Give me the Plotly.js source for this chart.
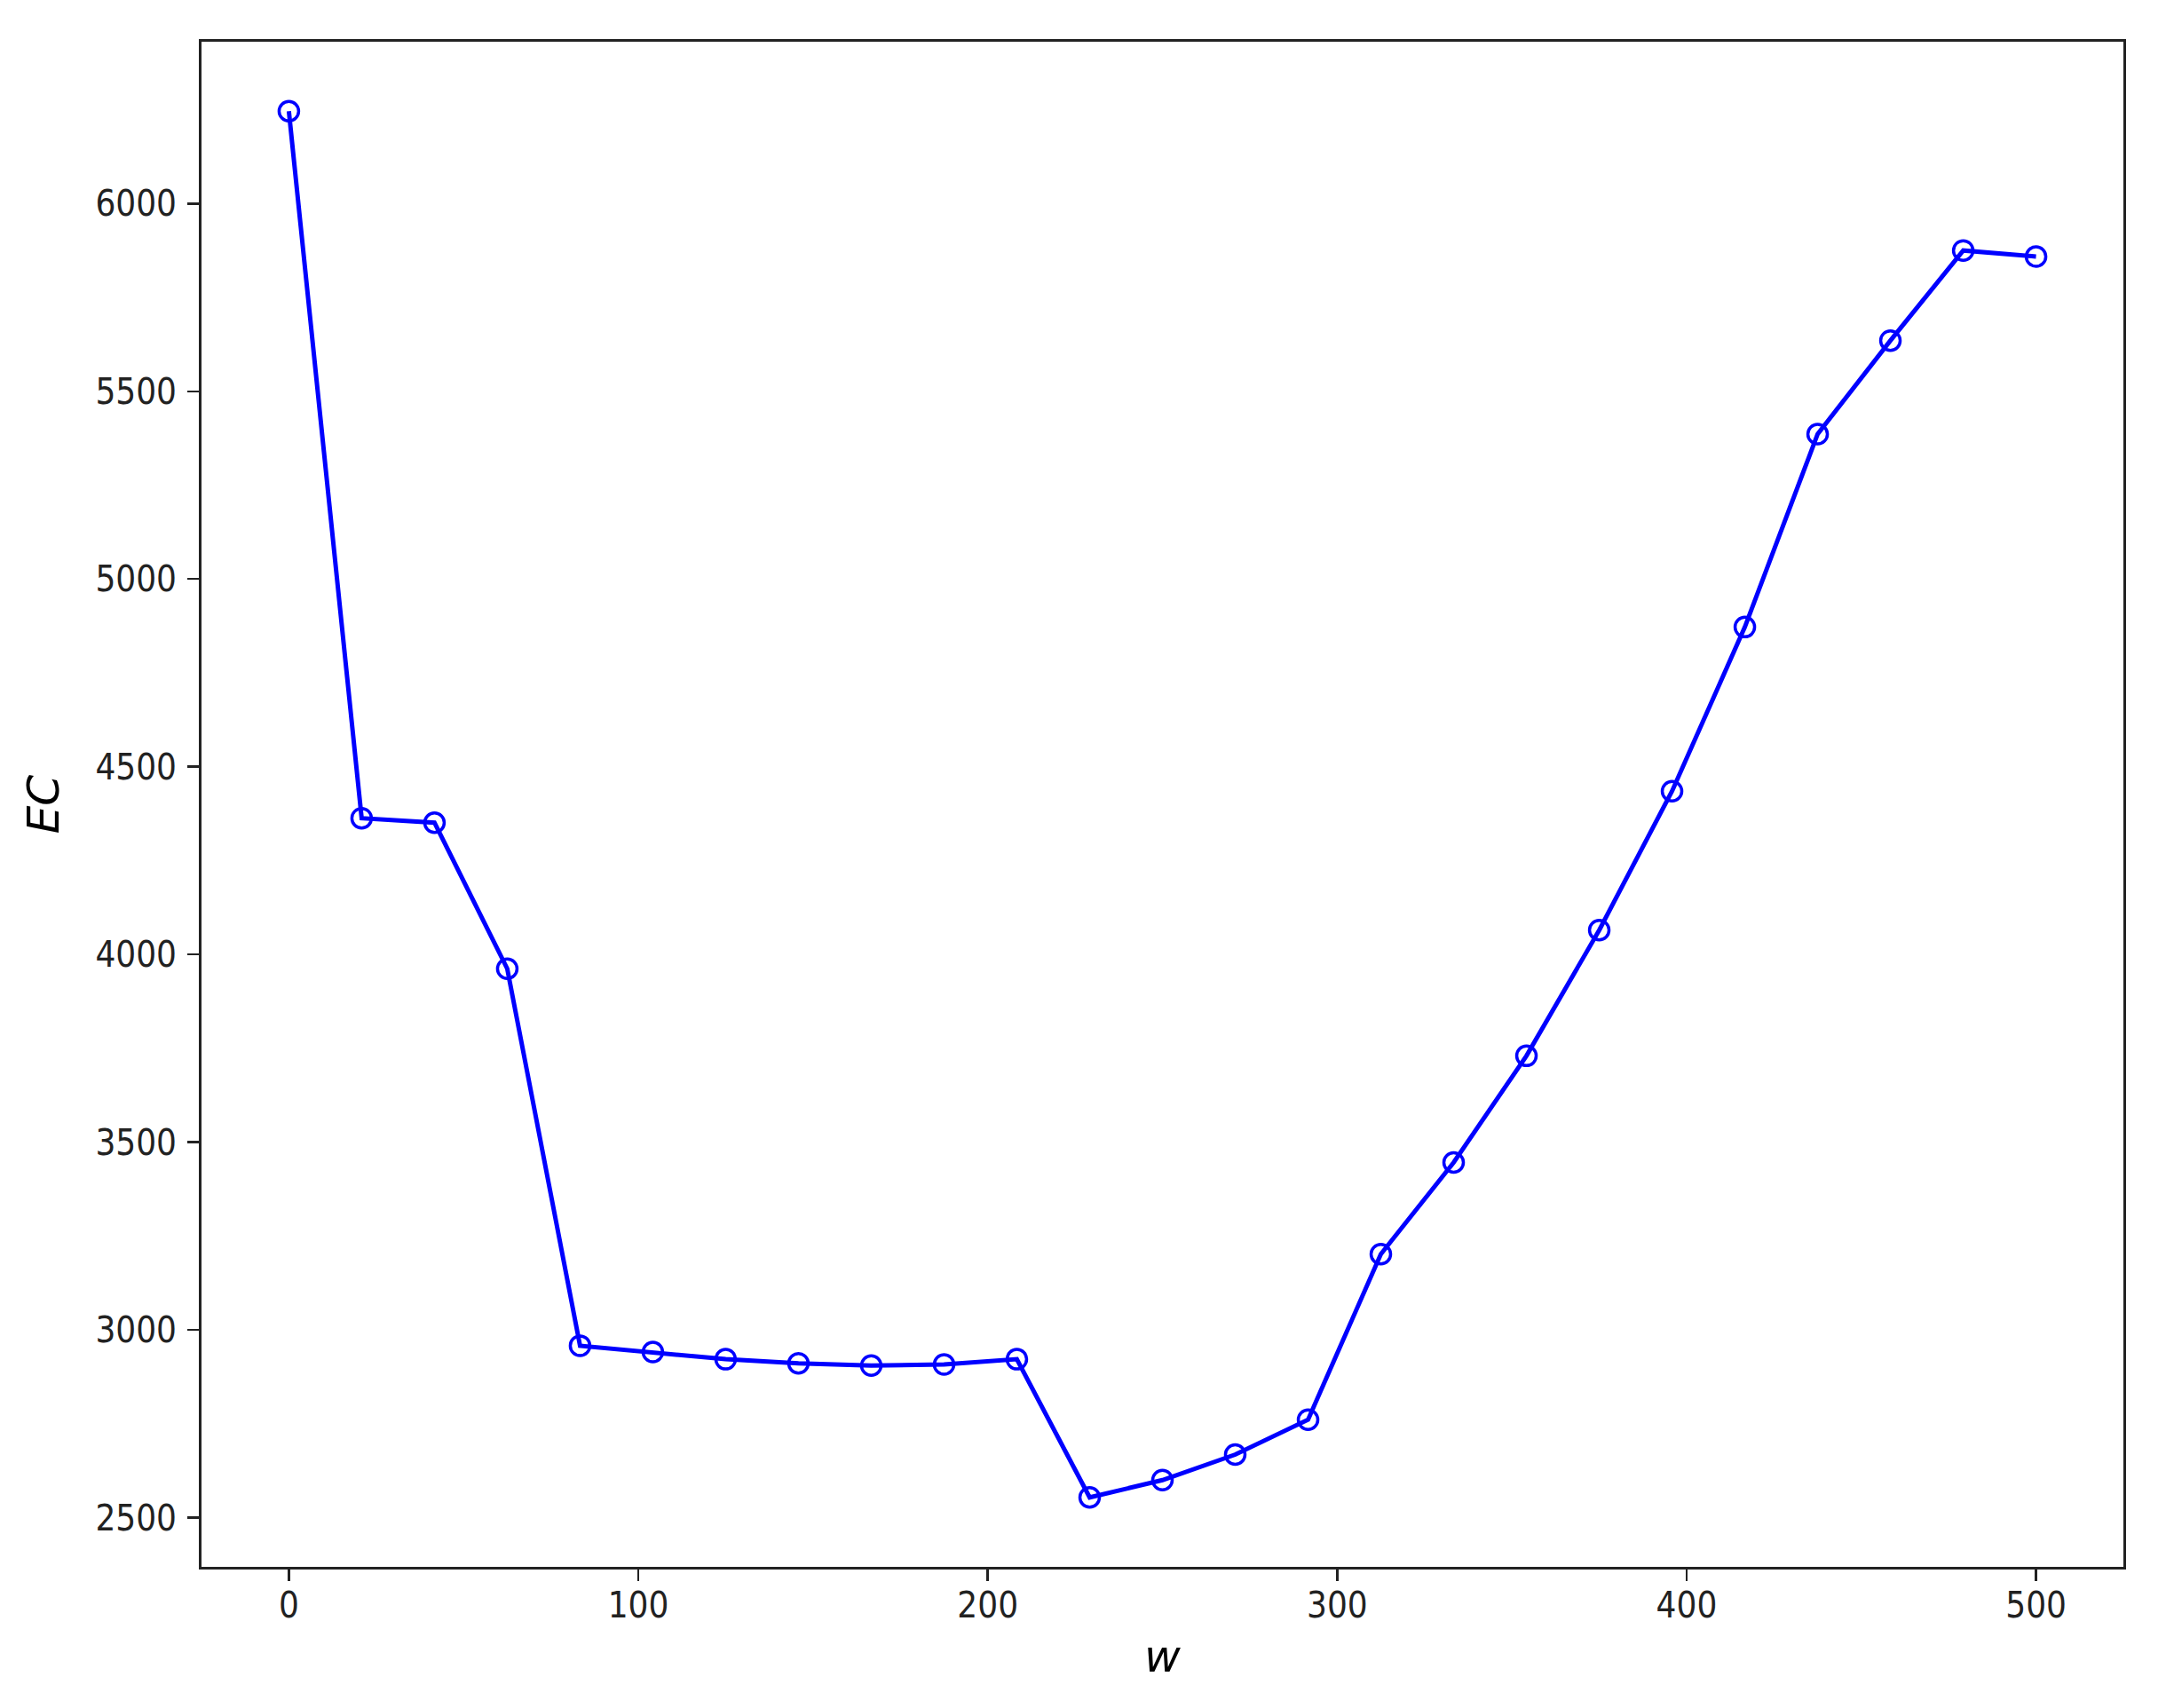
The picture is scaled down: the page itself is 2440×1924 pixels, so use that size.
<!DOCTYPE html>
<html>
<head>
<meta charset="utf-8">
<script src="https://cdn.plot.ly/plotly-3.0.1.min.js"></script>
<style>
  html, body { margin: 0; padding: 0; background: #fff; }
  #plot { width: 2440px; height: 1924px; }
</style>
</head>
<body>
<div id="plot"></div>
<script>
// w values (25 evenly spaced samples from 0 to 500)
const wValues = [
  0, 20.83, 41.67, 62.5, 83.33, 104.17, 125, 145.83, 166.67, 187.5,
  208.33, 229.17, 250, 270.83, 291.67, 312.5, 333.33, 354.17, 375, 395.83,
  416.67, 437.5, 458.33, 479.17, 500
];

// EC
const ecValues = [
  6246, 4363, 4351, 3962, 2958, 2941, 2922, 2911, 2905, 2908,
  2922, 2554, 2600, 2668, 2761, 3202, 3446, 3730, 4065, 4435,
  4872, 5386, 5635, 5875, 5859
];

const xTicks = [0, 100, 200, 300, 400, 500];
const yTicks = [2500, 3000, 3500, 4000, 4500, 5000, 5500, 6000];

const fontFamily = "DejaVu Sans Condensed, DejaVu Sans, sans-serif";
const titleFamily = "DejaVu Sans, sans-serif";
const inkColor = "#222222";

// Line with open circle markers
let ecTrace = {
  x: wValues,
  y: ecValues,
  type: "scatter",
  mode: "lines+markers",
  line: { color: "#0000ff", width: 5 },
  marker: {
    symbol: "circle-open",
    size: 22,
    color: "#0000ff",
    line: { color: "#0000ff", width: 3.5 },
  },
  showlegend: false,
  hoverinfo: "skip",
};

// Shared axis styling, matplotlib-like boxed frame
const axisStyle = {
  showline: true,
  linecolor: inkColor,
  linewidth: 3,
  mirror: true,
  showgrid: false,
  zeroline: false,
  ticks: "outside",
  ticklen: 13,
  tickwidth: 2.5,
  tickcolor: inkColor,
  tickfont: { family: fontFamily, size: 40, color: inkColor },
};

let layout = {
  width: 2440,
  height: 1924,
  paper_bgcolor: "#ffffff",
  plot_bgcolor: "#ffffff",
  margin: { l: 227, r: 48, t: 47, b: 159 },
  xaxis: {
    ...axisStyle,
    range: [-25, 525],
    ticklabelstandoff: -7,
    tickmode: "array",
    tickvals: xTicks,
    ticktext: xTicks.map(String),
    title: {
      text: "w",
      standoff: 18,
      font: { family: titleFamily, size: 50, color: "#000", style: "italic" },
    },
  },
  yaxis: {
    ...axisStyle,
    range: [2369, 6431],
    ticklabelstandoff: 4,
    tickmode: "array",
    tickvals: yTicks,
    ticktext: yTicks.map(String),
    title: {
      text: "EC",
      standoff: 25,
      font: { family: titleFamily, size: 50, color: "#000", style: "italic" },
    },
  },
};

Plotly.newPlot("plot", [ecTrace], layout, { staticPlot: true, displayModeBar: false });
</script>
</body>
</html>
